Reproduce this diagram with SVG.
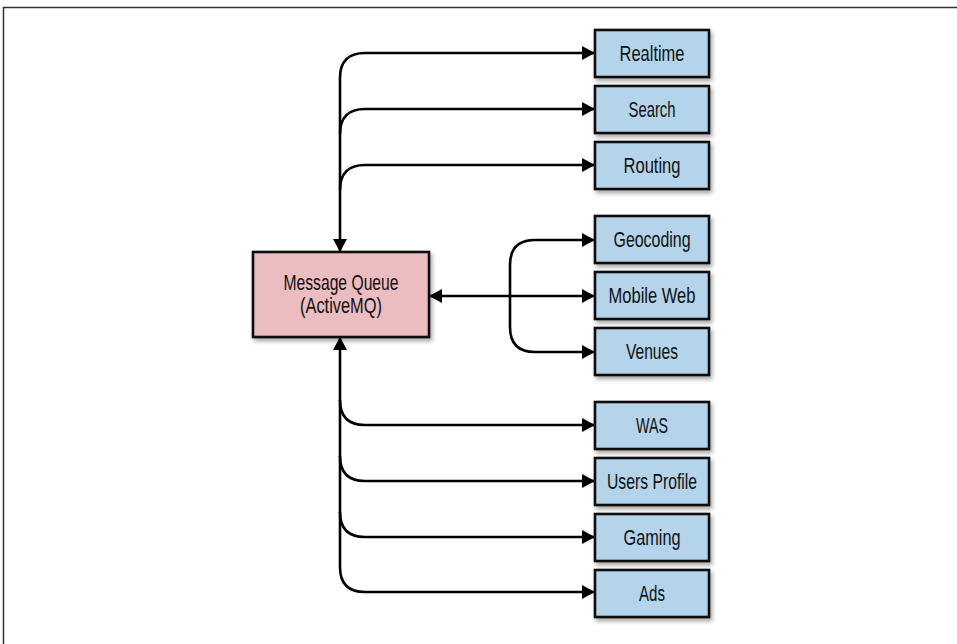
<svg xmlns="http://www.w3.org/2000/svg" width="957" height="644" viewBox="0 0 957 644">
<style>
.box{stroke:#111;stroke-width:2.6}
.svc{fill:#b3d4ea}
.mq{fill:#ebbcc0}
.lbl{font-family:"Liberation Sans",Arial,sans-serif;font-size:22px;fill:#111;text-anchor:middle}
.c{fill:none;stroke:#000;stroke-width:2.6}
</style>
<defs>
<filter id="sh" x="-20%" y="-20%" width="150%" height="160%">
<feDropShadow dx="2" dy="3" stdDeviation="2" flood-color="#000" flood-opacity="0.35"/>
</filter>
<marker id="ah" viewBox="0 0 13 14" refX="13" refY="7" markerWidth="13" markerHeight="14" markerUnits="userSpaceOnUse" orient="auto-start-reverse">
<path d="M0,0 L13,7 L0,14 Z" fill="#000"/>
</marker>
</defs>
<rect x="0" y="0" width="957" height="644" fill="#fff"/>
<path d="M3.5,644 V7.5 H957" fill="none" stroke="#333" stroke-width="1.5"/>

<g id="connectors">
<path class="c" d="M340,252 V78 Q340,53 365,53 H595" marker-start="url(#ah)" marker-end="url(#ah)"/>
<path class="c" d="M340,134 Q340,109 365,109 H595" marker-end="url(#ah)"/>
<path class="c" d="M340,190 Q340,165 365,165 H595" marker-end="url(#ah)"/>
<path class="c" d="M429,296 H595" marker-start="url(#ah)" marker-end="url(#ah)"/>
<path class="c" d="M595,240 H535 Q510,240 510,265 V327 Q510,352 535,352 H595" marker-start="url(#ah)" marker-end="url(#ah)"/>
<path class="c" d="M340,337 V567 Q340,592 365,592 H595" marker-start="url(#ah)" marker-end="url(#ah)"/>
<path class="c" d="M340,400 Q340,425 365,425 H595" marker-end="url(#ah)"/>
<path class="c" d="M340,456 Q340,481 365,481 H595" marker-end="url(#ah)"/>
<path class="c" d="M340,512 Q340,537 365,537 H595" marker-end="url(#ah)"/>
</g>

<g id="mq"><rect class="box mq" filter="url(#sh)" x="253" y="252" width="176" height="85"/><text class="lbl" x="341" y="290" textLength="115" lengthAdjust="spacingAndGlyphs">Message Queue</text><text class="lbl" x="341" y="313" textLength="82" lengthAdjust="spacingAndGlyphs">(ActiveMQ)</text></g>
<g id="realtime"><rect class="box svc" filter="url(#sh)" x="595" y="30" width="114" height="47"/><text class="lbl" x="652" y="61" textLength="65" lengthAdjust="spacingAndGlyphs">Realtime</text></g>
<g id="search"><rect class="box svc" filter="url(#sh)" x="595" y="86" width="114" height="47"/><text class="lbl" x="652" y="117" textLength="47" lengthAdjust="spacingAndGlyphs">Search</text></g>
<g id="routing"><rect class="box svc" filter="url(#sh)" x="595" y="142" width="114" height="47"/><text class="lbl" x="652" y="173" textLength="57" lengthAdjust="spacingAndGlyphs">Routing</text></g>
<g id="geocoding"><rect class="box svc" filter="url(#sh)" x="595" y="216" width="114" height="47"/><text class="lbl" x="652" y="247" textLength="77" lengthAdjust="spacingAndGlyphs">Geocoding</text></g>
<g id="mobileweb"><rect class="box svc" filter="url(#sh)" x="595" y="272" width="114" height="47"/><text class="lbl" x="652" y="303" textLength="87" lengthAdjust="spacingAndGlyphs">Mobile Web</text></g>
<g id="venues"><rect class="box svc" filter="url(#sh)" x="595" y="328" width="114" height="47"/><text class="lbl" x="652" y="359" textLength="52" lengthAdjust="spacingAndGlyphs">Venues</text></g>
<g id="was"><rect class="box svc" filter="url(#sh)" x="595" y="402" width="114" height="47"/><text class="lbl" x="652" y="433" textLength="32" lengthAdjust="spacingAndGlyphs">WAS</text></g>
<g id="usersprofile"><rect class="box svc" filter="url(#sh)" x="595" y="458" width="114" height="47"/><text class="lbl" x="652" y="489" textLength="90" lengthAdjust="spacingAndGlyphs">Users Profile</text></g>
<g id="gaming"><rect class="box svc" filter="url(#sh)" x="595" y="514" width="114" height="47"/><text class="lbl" x="652" y="545" textLength="57" lengthAdjust="spacingAndGlyphs">Gaming</text></g>
<g id="ads"><rect class="box svc" filter="url(#sh)" x="595" y="570" width="114" height="47"/><text class="lbl" x="652" y="601" textLength="26" lengthAdjust="spacingAndGlyphs">Ads</text></g>
</svg>
